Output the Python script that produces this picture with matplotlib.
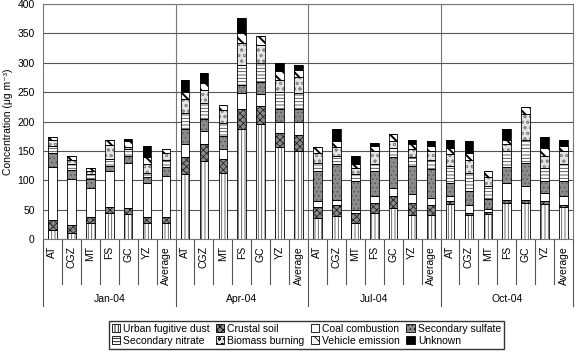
import numpy as np
import matplotlib
matplotlib.use("Agg")
import matplotlib.pyplot as plt
from matplotlib.patches import Patch
from matplotlib.transforms import blended_transform_factory

plt.rcParams['font.family'] = ['Liberation Sans', 'DejaVu Sans']
plt.rcParams['font.size'] = 7.5
plt.rcParams['hatch.linewidth'] = 0.6

months = ["Jan-04", "Apr-04", "Jul-04", "Oct-04"]
sites = ["AT", "CGZ", "MT", "FS", "GC", "YZ", "Average"]
sources = ["Urban fugitive dust", "Crustal soil", "Coal combustion", "Secondary sulfate",
           "Secondary nitrate", "Biomass burning", "Vehicle emission", "Unknown"]

# values per bar (4 months x 7 sites), ug/m3
urban_dust = [15, 11, 27, 45, 42, 28, 28,
              110, 132, 112, 188, 195, 156, 149,
              36, 39, 27, 45, 53, 41, 41,
              60, 41, 43, 61, 61, 60, 54]
crustal_soil = [17, 12, 10, 10, 10, 10, 10,
                30, 29, 25, 33, 31, 25, 28,
                18, 19, 17, 16, 20, 20, 17,
                4, 3, 3, 6, 6, 4, 4]
coal = [91, 79, 49, 61, 77, 57, 70,
        21, 23, 16, 28, 21, 19, 23,
        10, 9, 6, 12, 14, 16, 11,
        10, 14, 5, 29, 23, 14, 16]
sulfate = [23, 16, 16, 8, 12, 11, 15,
           26, 20, 23, 13, 21, 22, 21,
           51, 60, 48, 43, 53, 48, 51,
           22, 23, 17, 27, 39, 21, 25]
nitrate = [12, 9, 9, 12, 12, 6, 11,
           28, 27, 21, 34, 31, 29, 28,
           14, 14, 12, 12, 15, 15, 14,
           28, 32, 23, 27, 40, 22, 28]
biomass = [10, 8, 5, 24, 4, 16, 12,
           24, 23, 23, 38, 31, 20, 26,
           17, 15, 11, 21, 11, 13, 15,
           21, 22, 15, 11, 43, 21, 22]
vehicle = [5, 7, 5, 8, 9, 12, 7,
           12, 12, 8, 16, 15, 15, 13,
           10, 10, 6, 9, 12, 9, 9,
           10, 11, 9, 8, 13, 13, 10]
unknown = [0, 0, 0, 0, 5, 19, 0,
           20, 16, 0, 26, 0, 14, 8,
           0, 22, 14, 5, 0, 6, 8,
           14, 20, 0, 18, 0, 19, 9]

series = [urban_dust, crustal_soil, coal, sulfate, nitrate, biomass, vehicle, unknown]
# (facecolor, hatch, hatch colour, hatch width)
styles = [("white", "|||||", "#555555", 0.6),
          ("#8a8a8a", "xxxxx", "#222222", 0.6),
          ("white", "", "black", 0.6),
          ("#8c8c8c", "....", "#555555", 0.6),
          ("white", "-----", "#444444", 0.6),
          ("#e4e4e4", "ooo", "#8a8a8a", 0.6),
          ("white", "\\\\\\", "black", 1.4),
          ("black", "", "black", 0.6)]

fig = plt.figure(figsize=(5.76, 3.54), dpi=100)
ax = fig.add_axes([43 / 576, 1 - 239 / 354, 530 / 576, 235 / 354])

n = len(months) * len(sites)
x = np.arange(n)
width = 0.45
bottom = np.zeros(n)
for vals, (fc, hatch, hc, hw) in zip(series, styles):
    vals = np.array(vals, dtype=float)
    with plt.rc_context({'hatch.linewidth': hw}):
        ax.bar(x, vals, width, bottom=bottom, color=fc, hatch=hatch, edgecolor=hc,
               linewidth=0, zorder=3)
    ax.bar(x, vals, width, bottom=bottom, fill=False, edgecolor="black",
           linewidth=0.6, zorder=4)
    bottom += vals

ax.set_xlim(-0.5, n - 0.5)
ax.set_ylim(0, 400)
ax.set_yticks(np.arange(0, 401, 50))
ax.yaxis.grid(True, color="#555555", linewidth=0.8, zorder=0)
ax.set_xticks([])
ax.tick_params(axis="y", length=0, pad=6)
for s in ax.spines.values():
    s.set_color("#777777")
    s.set_linewidth(0.8)
ax.set_ylabel("Concentration (μg m⁻³)", labelpad=3)

# group separators inside the plot
for g in range(1, len(months)):
    ax.axvline(g * len(sites) - 0.5, color="#777777", linewidth=0.8, zorder=1)

# two-level category axis
trans = blended_transform_factory(ax.transData, ax.transAxes)
y_site = (239 - 284) / 235
y_group = (239 - 306) / 235
for i in range(n):
    ax.text(i, -0.03, sites[i % len(sites)], rotation=90, ha="center", va="top",
            transform=trans)
for i in range(n + 1):
    edge = i % len(sites) == 0
    ax.plot([i - 0.5, i - 0.5], [0, y_group if edge else y_site], transform=trans,
            color="#555555", linewidth=0.8, clip_on=False)
for g, m in enumerate(months):
    ax.text(g * len(sites) + 3, (239 - 299) / 235, m, ha="center", va="center",
            transform=trans)

handles = []
for fc, h, hc, hw in styles:
    with plt.rc_context({'hatch.linewidth': hw}):
        handles.append(Patch(facecolor=fc, hatch=h, edgecolor="black", linewidth=0.6))
# legend fills column-wise; reorder so rows read like the original
order = [0, 4, 1, 5, 2, 6, 3, 7]
fig.legend([handles[i] for i in order], [sources[i] for i in order], ncol=4,
           loc="center", bbox_to_anchor=(0.532, 0.054),
           bbox_transform=fig.transFigure, frameon=True, fancybox=False,
           edgecolor="black", handlelength=0.8, handleheight=0.8, handletextpad=0.3,
           columnspacing=0.6, labelspacing=0.15, borderpad=0.3, fontsize=7.5)

fig.savefig("out.png", dpi=100)
